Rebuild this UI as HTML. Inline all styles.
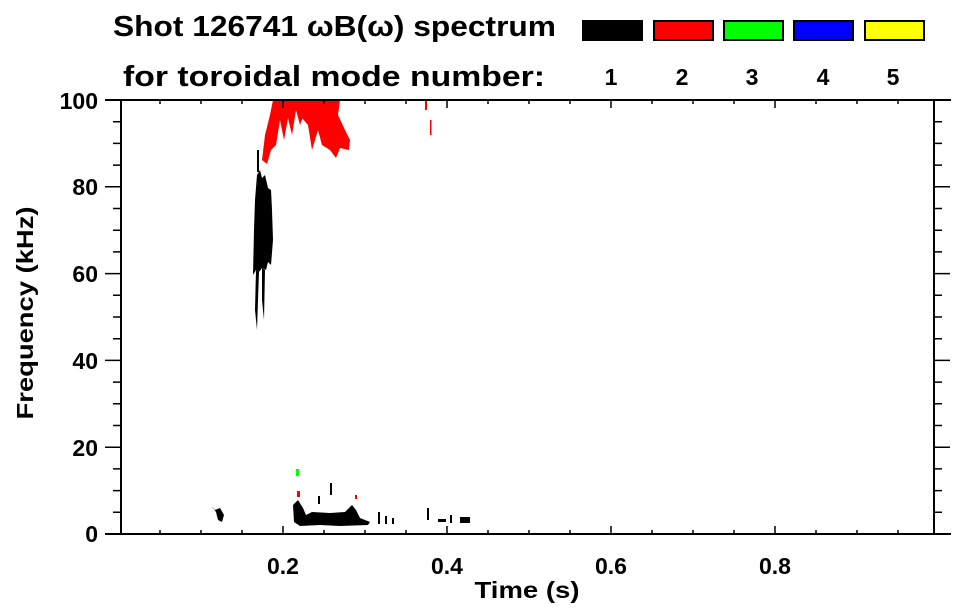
<!DOCTYPE html>
<html><head><meta charset="utf-8"><style>
body{margin:0;background:#fff;}
svg{display:block;font-family:"Liberation Sans",sans-serif;font-weight:bold;}
</style></head><body>
<svg width="963" height="615" viewBox="0 0 963 615" xmlns="http://www.w3.org/2000/svg">
<text x="113" y="36" font-size="29" textLength="443" lengthAdjust="spacingAndGlyphs">Shot 126741 ωB(ω) spectrum</text>
<text x="123" y="86" font-size="29" textLength="422" lengthAdjust="spacingAndGlyphs">for toroidal mode number:</text>
<rect x="582" y="20" width="61" height="21" fill="#000"/>
<rect x="654" y="21" width="59" height="19" fill="#f00" stroke="#000" stroke-width="2"/>
<rect x="724" y="21" width="59" height="19" fill="#0f0" stroke="#000" stroke-width="2"/>
<rect x="794" y="21" width="59" height="19" fill="#00f" stroke="#000" stroke-width="2"/>
<rect x="865" y="21" width="59" height="19" fill="#ff0" stroke="#000" stroke-width="2"/>
<g font-size="23" text-anchor="middle">
<text x="611" y="85">1</text><text x="682" y="85">2</text><text x="752" y="85">3</text><text x="823" y="85">4</text><text x="893" y="85">5</text>
</g>
<!-- data -->
<g fill="#f00">
<path d="M262 160 L265 135 L270 115 L273 100 L300 100 L305 112 L300 125 L296 110 L292 135 L288 118 L284 140 L280 120 L276 145 L271 150 L267 164 Z"/>
<path d="M295 100 L340 100 L338 115 L345 130 L350 140 L349 150 L340 148 L336 158 L330 150 L322 145 L318 130 L312 150 L308 125 L302 118 Z"/>
<rect x="425" y="100" width="2" height="10"/><rect x="430" y="120" width="1.5" height="15"/>
<rect x="297" y="491" width="3" height="6"/><rect x="355" y="495" width="2" height="4"/>
</g>
<rect x="296" y="469" width="3" height="7" fill="#0f0"/>
<g fill="#000">
<path d="M257 175 L260 170 L262 178 L265 175 L268 188 L271 190 L272 210 L273 240 L271 265 L268 262 L266 270 L262 268 L259 272 L256 270 L253 275 L254 230 L255 200 Z"/>
<path d="M256 270 L259 272 L258 300 L257 330 L255 310 Z"/>
<path d="M262 268 L265 270 L264 320 L262 300 Z"/>
<rect x="257" y="150" width="2" height="22"/>
<path d="M211 505 L215 510 L220 508 L224 515 L222 522 L218 520 L216 512 Z"/>
<path d="M293 505 L298 500 L303 508 L306 515 L312 512 L330 513 L345 512 L352 505 L356 510 L360 518 L370 522 L368 525 L340 526 L320 525 L300 526 L294 522 Z"/>
<rect x="330" y="483" width="2" height="12"/><rect x="318" y="496" width="2" height="8"/>
<rect x="378" y="512" width="2" height="12"/><rect x="385" y="516" width="2" height="8"/>
<rect x="392" y="518" width="2" height="6"/>
<rect x="427" y="508" width="2" height="12"/><rect x="438" y="519" width="8" height="3"/>
<rect x="450" y="515" width="2" height="8"/><rect x="460" y="517" width="10" height="6"/>
</g>
<!-- axes -->
<g stroke="#000" stroke-width="2" fill="none">
<line x1="105" y1="534" x2="951" y2="534"/>
<line x1="105" y1="100" x2="951" y2="100"/>
<line x1="121" y1="100" x2="121" y2="534"/>
<line x1="934" y1="100" x2="934" y2="534"/>
</g>
<g stroke="#000" stroke-width="1.5">
<path d="M105 100H121M105 186.8H121M105 273.6H121M105 360.4H121M105 447.2H121M105 534H121
M113 121.7H121M113 143.4H121M113 165.1H121M113 208.5H121M113 230.2H121M113 251.9H121M113 295.3H121M113 317H121M113 338.7H121M113 382.1H121M113 403.8H121M113 425.5H121M113 468.9H121M113 490.6H121M113 512.3H121
M934 100H950M934 186.8H950M934 273.6H950M934 360.4H950M934 447.2H950M934 534H950
M934 121.7H942M934 143.4H942M934 165.1H942M934 208.5H942M934 230.2H942M934 251.9H942M934 295.3H942M934 317H942M934 338.7H942M934 382.1H942M934 403.8H942M934 425.5H942M934 468.9H942M934 490.6H942M934 512.3H942"/>
<path d="M283 534V526M447 534V526M611 534V526M775 534V526
M160 534V530M201 534V530M242 534V530M324 534V530M365 534V530M406 534V530M488 534V530M529 534V530M570 534V530M652 534V530M693 534V530M734 534V530M816 534V530M857 534V530M898 534V530
M283 100V108M447 100V108M611 100V108M775 100V108
M160 100V104M201 100V104M242 100V104M324 100V104M365 100V104M406 100V104M488 100V104M529 100V104M570 100V104M652 100V104M693 100V104M734 100V104M816 100V104M857 100V104M898 100V104"/>
</g>
<g font-size="23" text-anchor="end">
<text x="98" y="109">100</text><text x="98" y="195">80</text><text x="98" y="282">60</text><text x="98" y="369">40</text><text x="98" y="456">20</text><text x="98" y="542">0</text>
</g>
<g font-size="23" text-anchor="middle">
<text x="283" y="574">0.2</text><text x="447" y="574">0.4</text><text x="611" y="574">0.6</text><text x="775" y="574">0.8</text>
<text x="527" y="598" textLength="105" lengthAdjust="spacingAndGlyphs">Time (s)</text>
<text transform="translate(33,313) rotate(-90)" textLength="213" lengthAdjust="spacingAndGlyphs">Frequency (kHz)</text>
</g>
</svg>
</body></html>
